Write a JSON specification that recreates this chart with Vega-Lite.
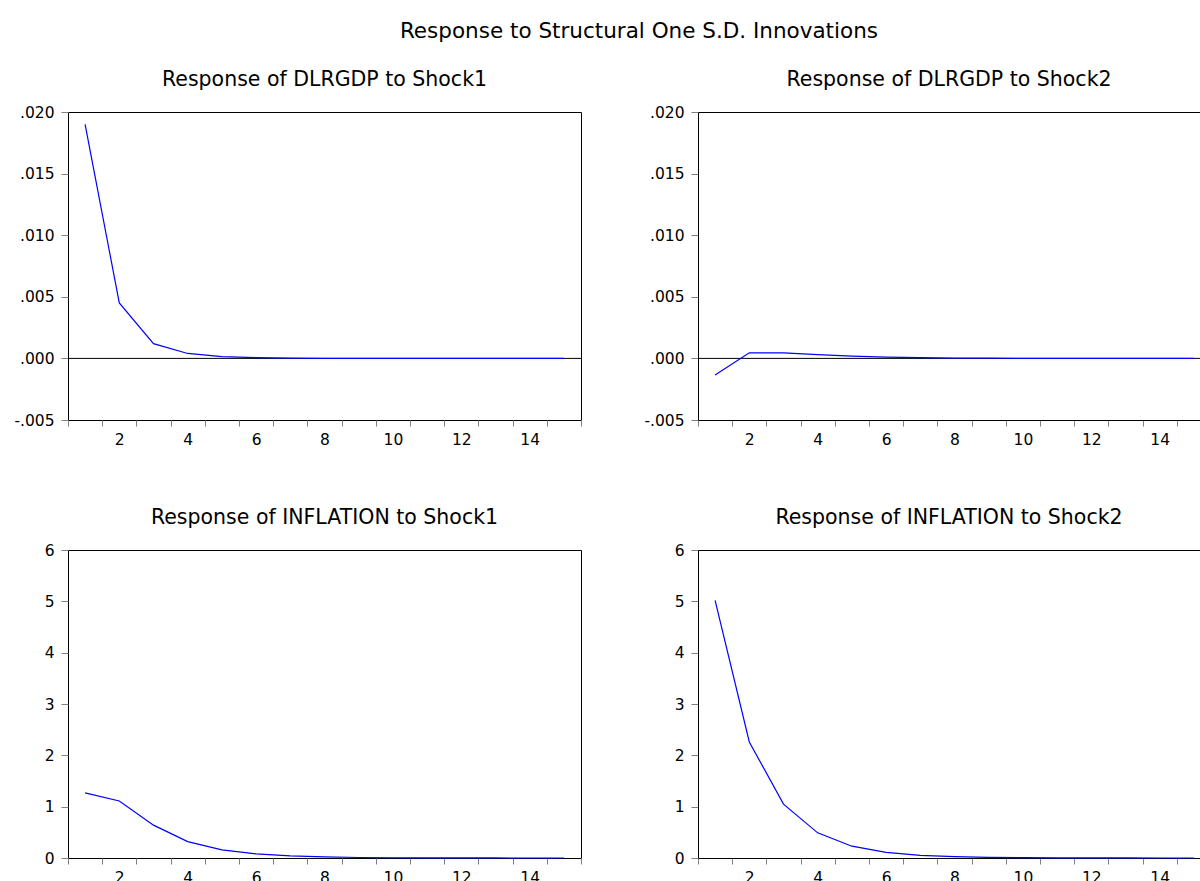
{
  "$schema": "https://vega.github.io/schema/vega-lite/v6.json",
  "background": "white",
  "padding": {"left": 13, "top": 20, "right": 0, "bottom": 0},
  "title": {"text": "Response to Structural One S.D. Innovations", "fontSize": 21.5, "font": "DejaVu Sans", "fontWeight": "normal", "anchor": "middle", "dx": 32, "offset": 27},
  "datasets": {
    "irf": [
      {"panel": "TL", "period": 1, "value": 0.019},
      {"panel": "TL", "period": 2, "value": 0.0045},
      {"panel": "TL", "period": 3, "value": 0.0012},
      {"panel": "TL", "period": 4, "value": 0.0004},
      {"panel": "TL", "period": 5, "value": 0.00015},
      {"panel": "TL", "period": 6, "value": 0.00006},
      {"panel": "TL", "period": 7, "value": 0.00003},
      {"panel": "TL", "period": 8, "value": 0.00001},
      {"panel": "TL", "period": 9, "value": 0.000005},
      {"panel": "TL", "period": 10, "value": 0.000002},
      {"panel": "TL", "period": 11, "value": 0.000001},
      {"panel": "TL", "period": 12, "value": 0},
      {"panel": "TL", "period": 13, "value": 0},
      {"panel": "TL", "period": 14, "value": 0},
      {"panel": "TL", "period": 15, "value": 0},
      {"panel": "TR", "period": 1, "value": -0.00135},
      {"panel": "TR", "period": 2, "value": 0.00046},
      {"panel": "TR", "period": 3, "value": 0.00045},
      {"panel": "TR", "period": 4, "value": 0.0003},
      {"panel": "TR", "period": 5, "value": 0.00019},
      {"panel": "TR", "period": 6, "value": 0.00011},
      {"panel": "TR", "period": 7, "value": 0.00006},
      {"panel": "TR", "period": 8, "value": 0.00003},
      {"panel": "TR", "period": 9, "value": 0.000015},
      {"panel": "TR", "period": 10, "value": 0.000007},
      {"panel": "TR", "period": 11, "value": 0.000003},
      {"panel": "TR", "period": 12, "value": 0.000001},
      {"panel": "TR", "period": 13, "value": 0},
      {"panel": "TR", "period": 14, "value": 0},
      {"panel": "TR", "period": 15, "value": 0},
      {"panel": "BL", "period": 1, "value": 1.27},
      {"panel": "BL", "period": 2, "value": 1.11},
      {"panel": "BL", "period": 3, "value": 0.64},
      {"panel": "BL", "period": 4, "value": 0.32},
      {"panel": "BL", "period": 5, "value": 0.16},
      {"panel": "BL", "period": 6, "value": 0.08},
      {"panel": "BL", "period": 7, "value": 0.04},
      {"panel": "BL", "period": 8, "value": 0.02},
      {"panel": "BL", "period": 9, "value": 0.01},
      {"panel": "BL", "period": 10, "value": 0.005},
      {"panel": "BL", "period": 11, "value": 0.002},
      {"panel": "BL", "period": 12, "value": 0.001},
      {"panel": "BL", "period": 13, "value": 0.0005},
      {"panel": "BL", "period": 14, "value": 0.0002},
      {"panel": "BL", "period": 15, "value": 0.0001},
      {"panel": "BR", "period": 1, "value": 5.02},
      {"panel": "BR", "period": 2, "value": 2.26},
      {"panel": "BR", "period": 3, "value": 1.05},
      {"panel": "BR", "period": 4, "value": 0.49},
      {"panel": "BR", "period": 5, "value": 0.23},
      {"panel": "BR", "period": 6, "value": 0.11},
      {"panel": "BR", "period": 7, "value": 0.05},
      {"panel": "BR", "period": 8, "value": 0.025},
      {"panel": "BR", "period": 9, "value": 0.012},
      {"panel": "BR", "period": 10, "value": 0.006},
      {"panel": "BR", "period": 11, "value": 0.003},
      {"panel": "BR", "period": 12, "value": 0.0013},
      {"panel": "BR", "period": 13, "value": 0.0006},
      {"panel": "BR", "period": 14, "value": 0.0003},
      {"panel": "BR", "period": 15, "value": 0.0001}
    ]
  },
  "columns": 2,
  "bounds": "flush",
  "spacing": {"row": 130, "column": 117},
  "concat": [
    {
      "title": {"text": "Response of DLRGDP to Shock1", "offset": 15},
      "width": 513, "height": 308,
      "view": {"stroke": "black"},
      "layer": [
        {"data": {"values": [{"value": 0}]}, "mark": {"type": "rule", "color": "black", "strokeWidth": 1},
         "encoding": {"y": {"field": "value", "type": "quantitative"}}},
        {"data": {"name": "irf"}, "transform": [{"filter": "datum.panel === 'TL'"}],
         "mark": {"type": "line", "color": "#0000FF", "strokeWidth": 1.2},
         "encoding": {
           "x": {"field": "period", "type": "quantitative", "scale": {"domain": [0.5, 15.5], "nice": false, "zero": false},
                 "axis": {"orient": "bottom", "values": [0.5,1.5,2.5,3.5,4.5,5.5,6.5,7.5,8.5,9.5,10.5,11.5,12.5,13.5,14.5,15.5], "labels": false, "tickSize": 6, "domain": false, "title": null}},
           "y": {"field": "value", "type": "quantitative", "scale": {"domain": [-0.005, 0.02], "nice": false, "zero": false},
                 "axis": {"values": [-0.005, 0, 0.005, 0.01, 0.015, 0.02], "labelExpr": "(datum.value < 0 ? '-' : '') + replace(format(abs(datum.value), '.3f'), '0.', '.')", "title": null, "tickSize": 7, "labelPadding": 7, "domain": false}}
         }},
        {"data": {"name": "irf"}, "transform": [{"filter": "datum.panel === 'TL'"}],
         "mark": {"type": "line", "strokeOpacity": 0},
         "encoding": {
           "x": {"field": "period", "type": "quantitative", "scale": {"domain": [0.5, 15.5], "nice": false, "zero": false},
                 "axis": {"orient": "bottom", "values": [2,4,6,8,10,12,14], "ticks": false, "tickSize": 0, "domain": false, "title": null, "labelPadding": 12.5}},
           "y": {"field": "value", "type": "quantitative"}
         }}
      ],
      "resolve": {"axis": {"x": "independent"}}
    },
    {
      "title": {"text": "Response of DLRGDP to Shock2", "offset": 15},
      "width": 502, "height": 308,
      "view": {"stroke": null},
      "layer": [
        {"data": {"values": [{"value": 0}]}, "mark": {"type": "rule", "color": "black", "strokeWidth": 1},
         "encoding": {"y": {"field": "value", "type": "quantitative"}}},
        {"data": {"name": "irf"}, "transform": [{"filter": "datum.panel === 'TR'"}],
         "mark": {"type": "line", "color": "#0000FF", "strokeWidth": 1.2},
         "encoding": {
           "x": {"field": "period", "type": "quantitative", "scale": {"domain": [0.5, 15.178], "nice": false, "zero": false},
                 "axis": {"orient": "bottom", "values": [0.5,1.5,2.5,3.5,4.5,5.5,6.5,7.5,8.5,9.5,10.5,11.5,12.5,13.5,14.5], "labels": false, "tickSize": 6, "domain": true, "domainColor": "black", "title": null}},
           "y": {"field": "value", "type": "quantitative", "scale": {"domain": [-0.005, 0.02], "nice": false, "zero": false},
                 "axis": {"values": [-0.005, 0, 0.005, 0.01, 0.015, 0.02], "labelExpr": "(datum.value < 0 ? '-' : '') + replace(format(abs(datum.value), '.3f'), '0.', '.')", "title": null, "tickSize": 7, "labelPadding": 7, "domain": true, "domainColor": "black"}}
         }},
        {"data": {"name": "irf"}, "transform": [{"filter": "datum.panel === 'TR'"}],
         "mark": {"type": "line", "strokeOpacity": 0},
         "encoding": {
           "x": {"field": "period", "type": "quantitative", "scale": {"domain": [0.5, 15.178], "nice": false, "zero": false},
                 "axis": {"orient": "bottom", "values": [2,4,6,8,10,12,14], "ticks": false, "tickSize": 0, "domain": false, "title": null, "labelPadding": 12.5}},
           "y": {"field": "value", "type": "quantitative"}
         }},
        {"data": {"name": "irf"}, "transform": [{"filter": "datum.panel === 'TR'"}],
         "mark": {"type": "line", "strokeOpacity": 0},
         "encoding": {
           "x": {"field": "period", "type": "quantitative", "scale": {"domain": [0.5, 15.178], "nice": false, "zero": false},
                 "axis": {"orient": "top", "labels": false, "ticks": false, "domain": true, "domainColor": "black", "title": null, "values": []}},
           "y": {"field": "value", "type": "quantitative"}
         }}
      ],
      "resolve": {"axis": {"x": "independent"}}
    },
    {
      "title": {"text": "Response of INFLATION to Shock1", "offset": 15},
      "width": 513, "height": 308,
      "view": {"stroke": "black"},
      "layer": [
        {"data": {"name": "irf"}, "transform": [{"filter": "datum.panel === 'BL'"}],
         "mark": {"type": "line", "color": "#0000FF", "strokeWidth": 1.2},
         "encoding": {
           "x": {"field": "period", "type": "quantitative", "scale": {"domain": [0.5, 15.5], "nice": false, "zero": false},
                 "axis": {"orient": "bottom", "values": [0.5,1.5,2.5,3.5,4.5,5.5,6.5,7.5,8.5,9.5,10.5,11.5,12.5,13.5,14.5,15.5], "labels": false, "tickSize": 6, "domain": false, "title": null}},
           "y": {"field": "value", "type": "quantitative", "scale": {"domain": [0, 6], "nice": false, "zero": false},
                 "axis": {"values": [0,1,2,3,4,5,6], "format": "d", "title": null, "tickSize": 7, "labelPadding": 7, "domain": false}}
         }},
        {"data": {"name": "irf"}, "transform": [{"filter": "datum.panel === 'BL'"}],
         "mark": {"type": "line", "strokeOpacity": 0},
         "encoding": {
           "x": {"field": "period", "type": "quantitative", "scale": {"domain": [0.5, 15.5], "nice": false, "zero": false},
                 "axis": {"orient": "bottom", "values": [2,4,6,8,10,12,14], "ticks": false, "tickSize": 0, "domain": false, "title": null, "labelPadding": 12.5}},
           "y": {"field": "value", "type": "quantitative"}
         }}
      ],
      "resolve": {"axis": {"x": "independent"}}
    },
    {
      "title": {"text": "Response of INFLATION to Shock2", "offset": 15},
      "width": 502, "height": 308,
      "view": {"stroke": null},
      "layer": [
        {"data": {"name": "irf"}, "transform": [{"filter": "datum.panel === 'BR'"}],
         "mark": {"type": "line", "color": "#0000FF", "strokeWidth": 1.2},
         "encoding": {
           "x": {"field": "period", "type": "quantitative", "scale": {"domain": [0.5, 15.178], "nice": false, "zero": false},
                 "axis": {"orient": "bottom", "values": [0.5,1.5,2.5,3.5,4.5,5.5,6.5,7.5,8.5,9.5,10.5,11.5,12.5,13.5,14.5], "labels": false, "tickSize": 6, "domain": true, "domainColor": "black", "title": null}},
           "y": {"field": "value", "type": "quantitative", "scale": {"domain": [0, 6], "nice": false, "zero": false},
                 "axis": {"values": [0,1,2,3,4,5,6], "format": "d", "title": null, "tickSize": 7, "labelPadding": 7, "domain": true, "domainColor": "black"}}
         }},
        {"data": {"name": "irf"}, "transform": [{"filter": "datum.panel === 'BR'"}],
         "mark": {"type": "line", "strokeOpacity": 0},
         "encoding": {
           "x": {"field": "period", "type": "quantitative", "scale": {"domain": [0.5, 15.178], "nice": false, "zero": false},
                 "axis": {"orient": "bottom", "values": [2,4,6,8,10,12,14], "ticks": false, "tickSize": 0, "domain": false, "title": null, "labelPadding": 12.5}},
           "y": {"field": "value", "type": "quantitative"}
         }},
        {"data": {"name": "irf"}, "transform": [{"filter": "datum.panel === 'BR'"}],
         "mark": {"type": "line", "strokeOpacity": 0},
         "encoding": {
           "x": {"field": "period", "type": "quantitative", "scale": {"domain": [0.5, 15.178], "nice": false, "zero": false},
                 "axis": {"orient": "top", "labels": false, "ticks": false, "domain": true, "domainColor": "black", "title": null, "values": []}},
           "y": {"field": "value", "type": "quantitative"}
         }}
      ],
      "resolve": {"axis": {"x": "independent"}}
    }
  ],
  "config": {
    "font": "DejaVu Sans",
    "view": {"stroke": "black", "strokeWidth": 1},
    "axis": {"labelFont": "DejaVu Sans", "labelFontSize": 15.5, "labelColor": "black", "tickColor": "#808080", "tickWidth": 1, "grid": false},
    "title": {"font": "DejaVu Sans", "fontSize": 20.5, "fontWeight": "normal", "color": "black"}
  }
}
